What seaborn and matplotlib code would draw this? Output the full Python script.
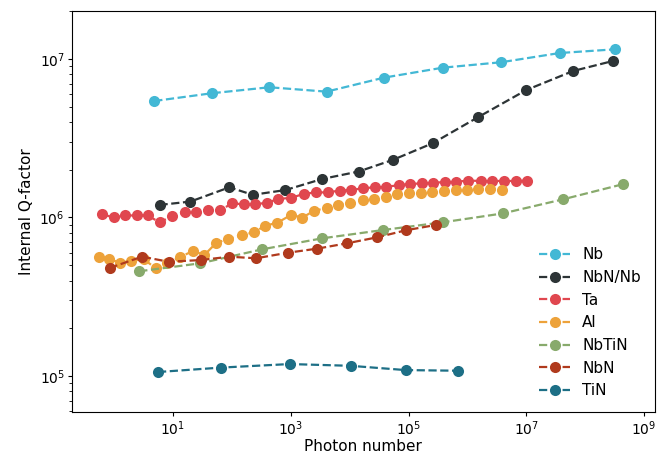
import pandas as pd
import matplotlib
matplotlib.use("Agg")
import matplotlib.pyplot as plt
import matplotlib.ticker as mticker
import seaborn as sns

materials = ['Nb', 'NbN/Nb', 'Ta', 'Al', 'NbTiN', 'NbN', 'TiN']
colors = ['#43b8d5', '#2d3436', '#e0474f', '#eda23a', '#88aa6c', '#b03a1d', '#1d6f86']

nb_x = [4.8, 46, 434, 4050, 3.8e4, 3.8e5, 3.7e6, 3.67e7, 3.16e8]
nb_q = [5.43e6, 6.08e6, 6.63e6, 6.22e6, 7.62e6, 8.81e6, 9.53e6, 1.09e7, 1.15e7]

nbnnb_x = [5.9, 19.7, 90.6, 226, 813, 3420, 1.42e4, 5.43e4, 2.57e5, 1.51e6, 1.0e7, 6.25e7, 2.92e8]
nbnnb_q = [1.2e6, 1.26e6, 1.55e6, 1.39e6, 1.49e6, 1.75e6, 1.95e6, 2.31e6, 2.94e6, 4.29e6, 6.37e6, 8.4e6, 9.7e6]

ta_x = [0.62, 0.98, 1.55, 2.4, 3.7, 5.9, 9.8, 15.7, 24.6, 38.7, 63.7, 100.7, 159, 244,
        397, 618, 1016, 1663, 2704, 4256, 6808, 10640, 16750, 26490, 41880, 67920,
        107400, 171800, 264200, 411100, 650100, 1.023e6, 1.683e6, 2.661e6, 4.188e6,
        6.622e6, 1.019e7]
ta_q = [1.05e6, 1.0e6, 1.03e6, 1.03e6, 1.03e6, 0.933e6, 1.02e6, 1.08e6, 1.09e6, 1.12e6,
        1.11e6, 1.23e6, 1.21e6, 1.21e6, 1.24e6, 1.31e6, 1.33e6, 1.41e6, 1.44e6, 1.44e6,
        1.48e6, 1.49e6, 1.53e6, 1.55e6, 1.56e6, 1.60e6, 1.63e6, 1.64e6, 1.66e6, 1.67e6,
        1.68e6, 1.71e6, 1.70e6, 1.70e6, 1.70e6, 1.70e6, 1.71e6]

al_x = [0.543, 0.826, 1.28, 1.95, 3.2, 5.06, 8.0, 12.9, 21.9, 34.1, 54.5, 87.2, 147, 235,
        371, 594, 1016, 1563, 2461, 4047, 6398, 9954, 17020, 25820, 40740, 64570,
        101600, 160700, 254100, 400000, 632000, 1.0e6, 1.54e6, 2.42e6, 3.83e6]
al_q = [5.66e5, 5.45e5, 5.19e5, 5.34e5, 5.45e5, 4.79e5, 5.16e5, 5.61e5, 6.15e5, 5.80e5,
        6.93e5, 7.31e5, 7.72e5, 8.07e5, 8.88e5, 9.27e5, 1.04e6, 9.98e5, 1.10e6, 1.15e6,
        1.20e6, 1.24e6, 1.28e6, 1.31e6, 1.35e6, 1.40e6, 1.43e6, 1.43e6, 1.45e6, 1.48e6,
        1.49e6, 1.49e6, 1.51e6, 1.51e6, 1.49e6]

nbtin_x = [2.67, 29.1, 327, 3420, 37240, 3.85e5, 3.94e6, 4.13e7, 4.32e8]
nbtin_q = [4.58e5, 5.14e5, 6.30e5, 7.39e5, 8.34e5, 9.33e5, 1.06e6, 1.30e6, 1.62e6]

nbn_x = [0.835, 2.97, 8.42, 29.9, 90.6, 258, 904, 2812, 9103, 29460, 89300, 289000]
nbn_q = [4.80e5, 5.66e5, 5.26e5, 5.39e5, 5.66e5, 5.53e5, 6.00e5, 6.36e5, 6.88e5, 7.50e5, 8.30e5, 8.97e5]

tin_x = [5.56, 64.6, 961, 10350, 89300, 703000]
tin_q = [1.06e5, 1.13e5, 1.19e5, 1.16e5, 1.09e5, 1.08e5]

x_ticks = [1e1, 1e3, 1e5, 1e7, 1e9]

series = [(nb_x, nb_q), (nbnnb_x, nbnnb_q), (ta_x, ta_q), (al_x, al_q),
          (nbtin_x, nbtin_q), (nbn_x, nbn_q), (tin_x, tin_q)]

frames = []
for name, (xs, qs) in zip(materials, series):
    frames.append(pd.DataFrame({'Photon number': xs, 'Q': qs, 'material': name}))
df = pd.concat(frames, ignore_index=True)

fig = plt.figure(figsize=(6.58, 4.54), dpi=100)
ax = fig.add_axes([0.109, 0.0925, 0.886, 0.8835])

sns.lineplot(
    data=df, x='Photon number', y='Q', hue='material', hue_order=materials,
    palette=colors, marker='o', markersize=8, markeredgewidth=0,
    linestyle='--', linewidth=1.6, errorbar=None, ax=ax
)

ax.set_xscale('log')
ax.set_yscale('log')
ax.set_xlim(10 ** -0.72, 10 ** 9.18)
ax.set_ylim(5.93e4, 2.01e7)
ax.xaxis.set_major_locator(mticker.FixedLocator(x_ticks))
ax.xaxis.set_major_formatter(mticker.LogFormatterSciNotation())
ax.xaxis.set_minor_locator(mticker.NullLocator())
ax.tick_params(which='major', labelsize=10, length=3, pad=2)
ax.tick_params(which='minor', length=2)
ax.set_xlabel('Photon number', fontsize=11, labelpad=1)
ax.set_ylabel('Internal Q-factor', fontsize=11, labelpad=4)

leg = ax.legend(loc='lower right', frameon=False, fontsize=11)
for h, c in zip(leg.legend_handles, colors):
    h.set_marker('o')
    h.set_markersize(8)
    h.set_markeredgewidth(0)
    h.set_linestyle('--')
    h.set_color(c)

fig.savefig('out.png', dpi=100)
